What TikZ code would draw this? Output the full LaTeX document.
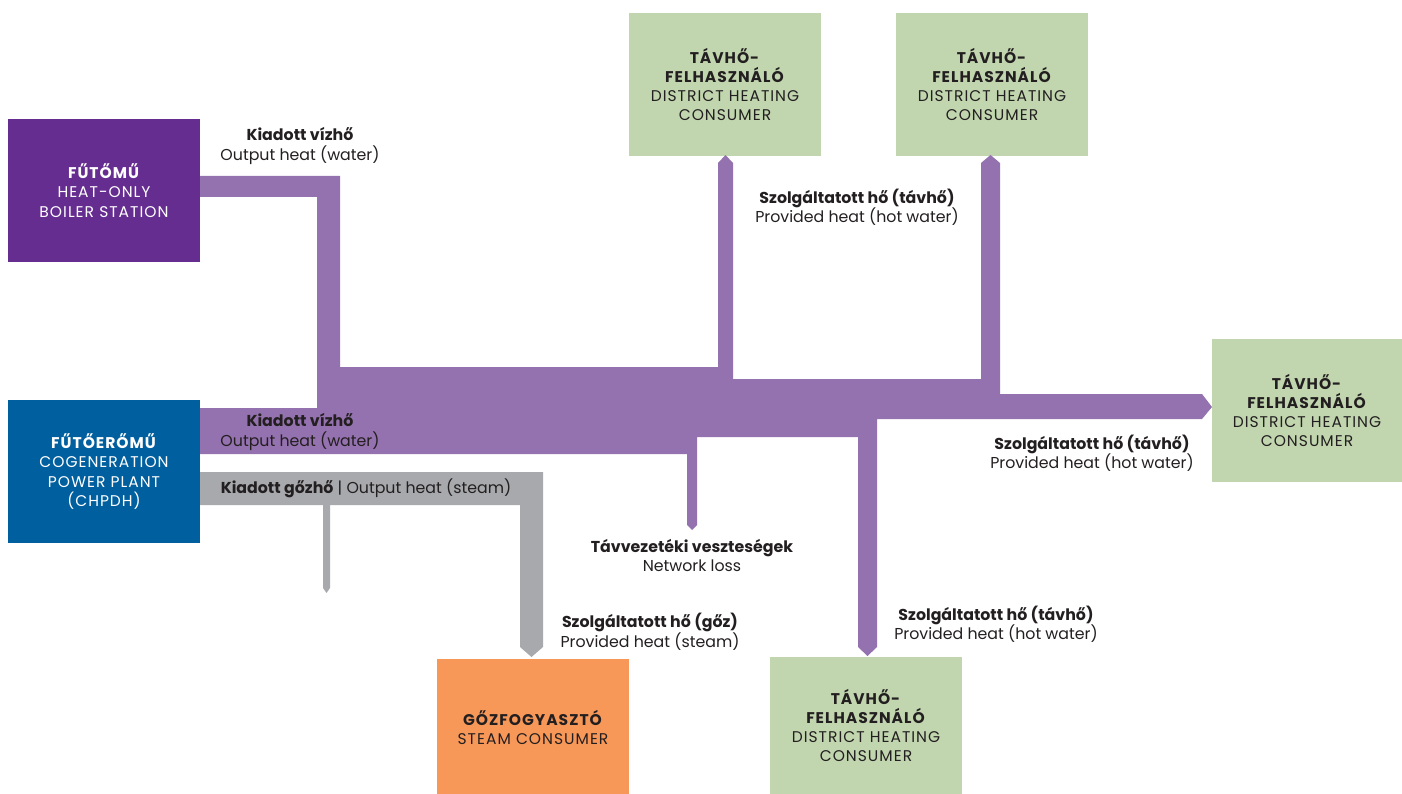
\documentclass[tikz,border=0pt]{standalone}
\usepackage{fontspec}
\setmainfont{Poppins}
\newfontfamily\boxfont[LetterSpace=6.5]{Poppins}
\definecolor{boilerc}{HTML}{662D91}
\definecolor{chpc}{HTML}{005F9E}
\definecolor{flowc}{HTML}{9471AF}
\definecolor{steamc}{HTML}{A7A9AC}
\definecolor{dhc}{HTML}{C1D6AF}
\definecolor{orangec}{HTML}{F79859}
\definecolor{txt}{HTML}{231F20}
\tikzset{
  box/.style={inner sep=0pt, minimum width=192pt, minimum height=143pt, align=center,
    font=\boxfont\fontsize{15.5}{19.3}\selectfont},
  dhbox/.style={box, fill=dhc, text=txt},
  lbl/.style={align=center, inner sep=0pt, text=txt, font=\fontsize{15.8}{19.5}\selectfont},
  flow/.style={fill=flowc},
  steamflow/.style={fill=steamc}
}
\begin{document}
\begin{tikzpicture}[x=1pt,y=-1pt]
\useasboundingbox (0,0) rectangle (1402,794);
% boxes
\node[box, fill=boilerc, text=white] (boiler) at (104,190.5) {\textbf{FŰTŐMŰ}\\HEAT-ONLY\\BOILER STATION};
\node[box, fill=chpc, text=white] (chp) at (104,471.5) {\textbf{FŰTŐERŐMŰ}\\COGENERATION\\POWER PLANT\\(CHPDH)};
\node[dhbox] (dh1) at (725,84.5) {\textbf{TÁVHŐ-}\\\textbf{FELHASZNÁLÓ}\\DISTRICT HEATING\\CONSUMER};
\node[dhbox] (dh2) at (992,84.5) {\textbf{TÁVHŐ-}\\\textbf{FELHASZNÁLÓ}\\DISTRICT HEATING\\CONSUMER};
\node[dhbox, minimum width=190pt] (dh3) at (1307,410.5) {\textbf{TÁVHŐ-}\\\textbf{FELHASZNÁLÓ}\\DISTRICT HEATING\\CONSUMER};
\node[dhbox, minimum height=137pt] (dh4) at (866,725.5) {\textbf{TÁVHŐ-}\\\textbf{FELHASZNÁLÓ}\\DISTRICT HEATING\\CONSUMER};
\node[box, fill=orangec, text=txt, minimum height=137pt] (steam) at (533,727.5) {\textbf{GŐZFOGYASZTÓ}\\STEAM CONSUMER};
% hot water flows
\fill[flow] (200,176) -- (340,176) -- (340,367) -- (718,367) -- (718,163) -- (725.5,155)
  -- (733,163) -- (733,379) -- (981,379) -- (981,163) -- (990.5,155) -- (1000,163)
  -- (1000,394) -- (1202,394) -- (1212,407) -- (1202,419) -- (877,419) -- (877,647)
  -- (867.5,656) -- (858,647) -- (858,437) -- (697,437) -- (697,525) -- (692,530)
  -- (687,525) -- (687,454) -- (200,454) -- (200,408) -- (317,408) -- (317,197)
  -- (200,197) -- cycle;
% steam flows
\fill[steamflow] (200,472) -- (543,472) -- (543,647) -- (531.5,657) -- (520,647)
  -- (520,505) -- (330,505) -- (330,588) -- (326.5,593) -- (323,588) -- (323,505)
  -- (200,505) -- cycle;
% labels
\node[lbl] (l1) at (300,146) {\textbf{Kiadott vízhő}\\Output heat (water)};
\node[lbl] (l2) at (300,432) {\textbf{Kiadott vízhő}\\Output heat (water)};
\node[lbl] (l3) at (366,488) {\textbf{Kiadott gőzhő} | Output heat (steam)};
\node[lbl] (l4) at (857,207.5) {\textbf{Szolgáltatott hő (távhő)}\\Provided heat (hot water)};
\node[lbl] (l5) at (1092,453.5) {\textbf{Szolgáltatott hő (távhő)}\\Provided heat (hot water)};
\node[lbl] (l6) at (692,555.5) {\textbf{Távvezetéki veszteségek}\\Network loss};
\node[lbl] (l7) at (650,632) {\textbf{Szolgáltatott hő (gőz)}\\Provided heat (steam)};
\node[lbl] (l8) at (996,624.5) {\textbf{Szolgáltatott hő (távhő)}\\Provided heat (hot water)};
\end{tikzpicture}
\end{document}
